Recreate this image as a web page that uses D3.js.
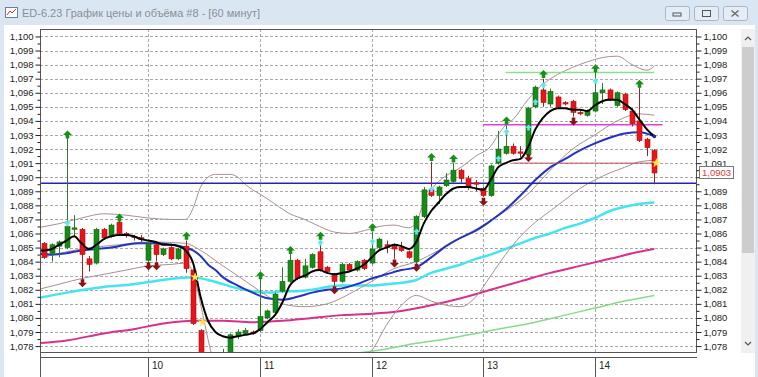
<!DOCTYPE html>
<html>
<head>
<meta charset="utf-8">
<script src="https://cdn.jsdelivr.net/npm/d3@7"></script>
<style>
  body { margin: 0; background: #fff; overflow: hidden; }
  text { font-family: "Liberation Sans", Arial, sans-serif; }
</style>
</head>
<body>
<div id="d3-container"></div>
<script>
/* CONSTANTS AND GLOBALS */
const width = 758,
  height = 377,
  plot = { left: 40, right: 696, top: 29, bottom: 352 };

const titleText = "ED-6.23 График цены и объёма #8 - [60 минут]";

// candles: [open, high, low, close], one per hourly bar
const candles = [
  [1.0853, 1.0854, 1.0842, 1.0843], [1.0846, 1.0853, 1.0840, 1.0852], [1.0851, 1.0855, 1.0843, 1.0854],
  [1.0850, 1.0929, 1.0849, 1.0865], [1.0863, 1.0873, 1.0858, 1.0864], [1.0863, 1.0864, 1.0826, 1.0845],
  [1.0842, 1.0844, 1.0833, 1.0838], [1.0839, 1.0864, 1.0838, 1.0863], [1.0863, 1.0864, 1.0856, 1.0857],
  [1.0858, 1.0867, 1.0857, 1.0866], [1.0868, 1.0869, 1.0859, 1.0860], [1.0860, 1.0861, 1.0857, 1.0859],
  [1.0858, 1.0859, 1.0855, 1.0857], [1.0857, 1.0859, 1.0854, 1.0856],
  // 10
  [1.0841, 1.0855, 1.0839, 1.0853], [1.0852, 1.0853, 1.0840, 1.0845], [1.0845, 1.0850, 1.0844, 1.0849],
  [1.0850, 1.0851, 1.0841, 1.0842], [1.0842, 1.0850, 1.0841, 1.0849], [1.0851, 1.0855, 1.0832, 1.0835],
  [1.0834, 1.0835, 1.0795, 1.0796], [1.0791, 1.0792, 1.0768, 1.0770], [1.0771, 1.0774, 1.0762, 1.0766],
  [1.0766, 1.0772, 1.0760, 1.0770], [1.0770, 1.0778, 1.0766, 1.0774], [1.0772, 1.0789, 1.0770, 1.0788],
  [1.0787, 1.0792, 1.0785, 1.0790], [1.0789, 1.0793, 1.0788, 1.0791], [1.0790, 1.0791, 1.0788, 1.0789],
  // 11
  [1.0791, 1.0828, 1.0790, 1.0801], [1.0800, 1.0806, 1.0799, 1.0805], [1.0804, 1.0818, 1.0803, 1.0817],
  [1.0819, 1.0836, 1.0818, 1.0826], [1.0826, 1.0846, 1.0825, 1.0841], [1.0841, 1.0842, 1.0827, 1.0828],
  [1.0829, 1.0842, 1.0828, 1.0837], [1.0836, 1.0846, 1.0835, 1.0845], [1.0847, 1.0855, 1.0833, 1.0834],
  [1.0836, 1.0837, 1.0832, 1.0833], [1.0831, 1.0832, 1.0823, 1.0826], [1.0826, 1.0839, 1.0825, 1.0838],
  [1.0838, 1.0839, 1.0833, 1.0834], [1.0834, 1.0841, 1.0833, 1.0840], [1.0841, 1.0842, 1.0834, 1.0835],
  // 12
  [1.0839, 1.0861, 1.0838, 1.0849], [1.0850, 1.0857, 1.0849, 1.0856], [1.0852, 1.0855, 1.0846, 1.0850],
  [1.0851, 1.0853, 1.0842, 1.0849], [1.0850, 1.0854, 1.0847, 1.0848], [1.0847, 1.0848, 1.0842, 1.0843],
  [1.0840, 1.0873, 1.0838, 1.0872], [1.0872, 1.0893, 1.0871, 1.0891], [1.0891, 1.0911, 1.0886, 1.0887],
  [1.0887, 1.0894, 1.0881, 1.0893], [1.0894, 1.0903, 1.0893, 1.0898], [1.0897, 1.0910, 1.0896, 1.0905],
  [1.0905, 1.0906, 1.0896, 1.0899], [1.0899, 1.0901, 1.0891, 1.0893], [1.0896, 1.0898, 1.0890, 1.0895],
  // 13
  [1.0892, 1.0893, 1.0886, 1.0887], [1.0887, 1.0909, 1.0886, 1.0908], [1.0910, 1.0933, 1.0909, 1.0920],
  [1.0917, 1.0937, 1.0916, 1.0922], [1.0922, 1.0924, 1.0916, 1.0917], [1.0918, 1.0922, 1.0914, 1.0917],
  [1.0916, 1.0950, 1.0915, 1.0949], [1.0950, 1.0965, 1.0949, 1.0964], [1.0962, 1.0970, 1.0950, 1.0953],
  [1.0952, 1.0963, 1.0950, 1.0961], [1.0957, 1.0958, 1.0949, 1.0950], [1.0953, 1.0954, 1.0951, 1.0952],
  [1.0954, 1.0955, 1.0943, 1.0946], [1.0946, 1.0947, 1.0944, 1.0945], [1.0944, 1.0948, 1.0943, 1.0947],
  // 14
  [1.0947, 1.0975, 1.0946, 1.0960], [1.0960, 1.0967, 1.0952, 1.0962], [1.0962, 1.0963, 1.0954, 1.0955],
  [1.0951, 1.0961, 1.0950, 1.0960], [1.0959, 1.0960, 1.0947, 1.0948], [1.0947, 1.0949, 1.0936, 1.0938],
  [1.0940, 1.0964, 1.0925, 1.0926], [1.0927, 1.0928, 1.0915, 1.0921], [1.0919, 1.0920, 1.0895, 1.0903]
];

const dayLabels = ["10", "11", "12", "13", "14"];
const dayStart = [14, 29, 44, 59, 74];

const yTickValues = [1.078, 1.079, 1.080, 1.081, 1.082, 1.083, 1.084, 1.085, 1.086, 1.087, 1.088,
  1.089, 1.090, 1.091, 1.092, 1.093, 1.094, 1.095, 1.096, 1.097, 1.098, 1.099, 1.100];

// indicator lines, [bar index, value]
const fastMA = [[-1,1.0848],[0,1.0848],[1,1.0849],[2,1.0852],[3,1.0855],[4,1.0858],[5,1.0853],[6,1.0849],
  [7,1.0852],[8,1.0856],[9,1.0858],[10,1.0859],[11,1.0859],[12,1.0858],[13,1.0856],[14,1.0855],[15,1.0854],
  [16,1.0852],[17,1.0852],[18,1.0851],[19,1.0848],[20,1.0839],[21,1.0815],[22,1.0798],[23,1.0790],[24,1.0787],
  [25,1.0786],[26,1.0787],[27,1.0788],[28,1.0789],[29,1.0792],[30,1.0797],[31,1.0802],[32,1.0811],[33,1.0823],
  [34,1.0828],[35,1.0830],[36,1.0833],[37,1.0834],[38,1.0832],[39,1.0831],[40,1.0832],[41,1.0833],[42,1.0835],
  [43,1.0838],[44,1.0843],[45,1.0848],[46,1.0850],[47,1.0852],[48,1.0851],[49,1.0849],[50,1.0854],[51,1.0867],
  [52,1.0876],[53,1.0882],[54,1.0888],[55,1.0892],[56,1.0893],[57,1.0893],[58,1.0892],[59,1.0891],[60,1.0898],
  [61,1.0907],[62,1.0910],[63,1.0912],[64,1.0913],[65,1.0921],[66,1.0934],[67,1.0942],[68,1.0947],[69,1.0949],
  [70,1.0949],[71,1.0948],[72,1.0948],[73,1.0947],[74,1.0951],[75,1.0954],[76,1.0955],[77,1.0955],[78,1.0952],
  [79,1.0948],[80,1.0941],[81,1.0934],[82,1.0929]];
const blueMA = [[-1,1.0846],[1,1.0845],[3,1.0846],[5,1.0848],[7,1.0849],[9,1.0850],[11,1.0852],[13,1.0853],
  [15,1.0853],[17,1.0852],[19,1.0850],[20,1.0848],[21,1.0844],[22,1.0838],[23,1.0834],[24,1.0829],[26,1.0823],
  [28,1.0818],[30,1.0814],[32,1.0813],[34,1.0815],[36,1.0818],[38,1.0820],[40,1.0821],[42,1.0824],[44,1.0828],
  [46,1.0831],[48,1.0834],[50,1.0836],[52,1.0843],[54,1.0851],[56,1.0857],[58,1.0862],[60,1.0869],[62,1.0877],
  [64,1.0887],[66,1.0898],[68,1.0907],[70,1.0913],[72,1.0919],[74,1.0924],[76,1.0928],[78,1.0931],[80,1.0932],
  [82,1.0929]];
const cyanMA = [[-1,1.0814],[3,1.0818],[8,1.0822],[12,1.0824],[16,1.0827],[20,1.0829],[22,1.0827],[24,1.0824],
  [26,1.0821],[28,1.0819],[30,1.0818],[32,1.0819],[34,1.0819],[36,1.0820],[38,1.0822],[40,1.0823],[42,1.0823],
  [44,1.0823],[46,1.0824],[48,1.0825],[50,1.0827],[52,1.0832],[54,1.0835],[56,1.0838],[58,1.0842],[60,1.0845],
  [62,1.0849],[64,1.0853],[66,1.0857],[68,1.0860],[70,1.0864],[72,1.0867],[74,1.0871],[76,1.0876],[78,1.0879],
  [80,1.0881],[82,1.0882]];
const magentaMA = [[-1,1.0782],[3,1.0784],[8,1.0789],[12,1.0792],[16,1.0796],[20,1.0798],[24,1.0798],[28,1.0797],
  [32,1.0798],[36,1.0800],[40,1.0802],[44,1.0803],[48,1.0805],[52,1.0809],[56,1.0814],[60,1.0820],[64,1.0826],
  [68,1.0832],[72,1.0837],[76,1.0842],[80,1.0847],[82,1.0849]];
const greenMA = [[42,1.0775],[46,1.0778],[50,1.0782],[54,1.0785],[58,1.0789],[62,1.0793],[66,1.0797],[70,1.0802],
  [74,1.0807],[78,1.0812],[82,1.0816]];
const bandUpper = [[-1,1.0864],[2,1.0867],[5,1.0871],[8,1.0874],[11,1.0873],[14,1.0871],[17,1.0870],[19,1.0870],
  [20,1.0878],[21,1.0893],[22,1.0900],[23,1.0902],[24,1.0902],[25,1.0902],[26,1.0900],[27,1.0895],[28,1.0891],
  [29,1.0888],[31,1.0881],[33,1.0874],[35,1.0870],[37,1.0865],[39,1.0861],[41,1.0860],[43,1.0862],[45,1.0865],
  [47,1.0866],[49,1.0864],[50,1.0868],[51,1.0882],[52,1.0891],[53,1.0897],[54,1.0901],[56,1.0907],[58,1.0915],
  [60,1.0922],[61,1.0930],[62,1.0937],[63,1.0941],[65,1.0955],[67,1.0966],[69,1.0973],[71,1.0978],[73,1.0982],
  [75,1.0985],[77,1.0986],[79,1.0980],[81,1.0976],[82,1.0979]];
const bandMiddle = [[-1,1.0842],[5,1.0849],[10,1.0852],[14,1.0854],[19,1.0853],[21,1.0848],[24,1.0837],[26,1.0830],
  [29,1.0819],[32,1.0810],[35,1.0808],[38,1.0810],[41,1.0817],[44,1.0826],[47,1.0835],[50,1.0840],[53,1.0848],
  [56,1.0857],[59,1.0866],[62,1.0876],[65,1.0888],[68,1.0905],[71,1.0920],[74,1.0930],[77,1.0940],[80,1.0945],
  [82,1.0944]];
const bandLower = [[-1,1.0820],[2,1.0824],[5,1.0828],[8,1.0831],[11,1.0834],[14,1.0837],[17,1.0838],[19,1.0839],
  [20,1.0832],[21,1.0810],[22,1.0785],[23,1.0765],[26,1.0745],[30,1.0742],[34,1.0748],[38,1.0757],[41,1.0766],
  [43,1.0773],[44,1.0777],[46,1.0795],[48,1.0809],[50,1.0816],[52,1.0812],[54,1.0809],[56,1.0808],[58,1.0815],
  [60,1.0830],[62,1.0845],[64,1.0858],[66,1.0868],[68,1.0876],[70,1.0884],[72,1.0892],[74,1.0898],[76,1.0903],
  [78,1.0907],[80,1.0911],[82,1.0912]];

// fractal / signal markers, [bar index, value]
const upArrows = [[3,1.0930],[10,1.0871],[19,1.0858],[29,1.0830],[33,1.0848],[37,1.0858],[44,1.0864],
  [52,1.0914],[55,1.0913],[62,1.0940],[67,1.0973],[74,1.0977],[80,1.0966]];
const cyanArrows = [[3,1.0867],[37,1.0853],[44,1.0854],[50,1.0861],[52,1.0891],[61,1.0913],[62,1.0932],
  [65,1.0935],[66,1.0953],[67,1.0965],[74,1.0968]];
const downArrows = [[5,1.0825],[14,1.0837],[15,1.0837],[39,1.0820],[47,1.0839],[50,1.0836],[59,1.0883],
  [65,1.0914],[71,1.0940]];
const stars = [[20,1.0829],[21,1.0797],[82,1.0910]];

// horizontal levels: [value, from bar, to bar]
const levelBlue = [1.08957, -1, 88];
const levelGreen = [1.09744, 62, 82];
const levelMagenta = [1.09372, 59, 83.1];
const levelRed = [1.0910, 63, 82.2];
const lastPrice = 1.0903;

let svg, xScale, yScale, chart;

init();

/* INITIALIZING FUNCTION */
function init() {
  xScale = d3.scaleLinear().domain([-0.58, 87.6]).range([plot.left, plot.right]);
  yScale = d3.scaleLinear().domain([1.07758, 1.10053]).range([plot.bottom, plot.top]);

  svg = d3.select("#d3-container").append("svg")
    .attr("width", width)
    .attr("height", height);

  drawWindow();

  svg.append("defs").append("clipPath").attr("id", "plotclip")
    .append("rect")
    .attr("x", plot.left).attr("y", plot.top)
    .attr("width", plot.right - plot.left).attr("height", plot.bottom - plot.top);

  // grid
  const grid = svg.append("g").attr("class", "grid")
    .attr("stroke", "#a8a8a8").attr("stroke-dasharray", "3,2").attr("stroke-width", 1);
  grid.selectAll(".hgrid").data(yTickValues).join("line")
    .attr("x1", plot.left).attr("x2", plot.right)
    .attr("y1", d => Math.round(yScale(d)) + 0.5).attr("y2", d => Math.round(yScale(d)) + 0.5);
  grid.selectAll(".vgrid").data(dayStart).join("line")
    .attr("x1", d => Math.round(xScale(d)) + 0.5).attr("x2", d => Math.round(xScale(d)) + 0.5)
    .attr("y1", plot.top).attr("y2", plot.bottom);

  chart = svg.append("g").attr("clip-path", "url(#plotclip)");

  draw();
  drawAxes();
}

function drawWindow() {
  // title bar
  svg.append("rect").attr("x", 0).attr("y", 0).attr("width", width).attr("height", 25).attr("fill", "#dbe6f3");
  svg.append("rect").attr("x", 0).attr("y", 0).attr("width", 4).attr("height", height).attr("fill", "#dbe6f3");
  svg.append("rect").attr("x", 755).attr("y", 0).attr("width", 3).attr("height", height).attr("fill", "#dbe6f3");
  // icon
  svg.append("rect").attr("x", 5.5).attr("y", 7.5).attr("width", 12).attr("height", 10)
    .attr("fill", "#fff").attr("stroke", "#6a7f9a");
  svg.append("path").attr("d", "M7,15 L10,11 L12,13 L16,9").attr("fill", "none").attr("stroke", "#d03030");
  svg.append("text").attr("x", 22).attr("y", 17).attr("font-size", 11).attr("fill", "#8a8f96")
    .attr("font-family", "Open Sans").text(titleText);
  // window buttons
  const btns = [665, 694, 723];
  svg.selectAll(".btn").data(btns).join("rect")
    .attr("x", d => d + 0.5).attr("y", 6.5).attr("width", 24).attr("height", 14).attr("rx", 2)
    .attr("fill", "#e4ecf6").attr("stroke", "#a8b6c8");
  svg.append("rect").attr("x", 673).attr("y", 13).attr("width", 8).attr("height", 3).attr("fill", "none").attr("stroke", "#555");
  svg.append("rect").attr("x", 702.5).attr("y", 10.5).attr("width", 8).attr("height", 6).attr("fill", "none").attr("stroke", "#555");
  svg.append("path").attr("d", "M731.5,10.5 L738.5,16.5 M738.5,10.5 L731.5,16.5").attr("stroke", "#666").attr("stroke-width", 1.3);
  // scrollbar
  svg.append("rect").attr("x", 741).attr("y", 29).attr("width", 14).attr("height", 324).attr("fill", "#f0f0f0");
  svg.append("rect").attr("x", 742).attr("y", 47).attr("width", 12).attr("height", 206).attr("fill", "#cdcdcd");
  svg.append("path").attr("d", "M745,40 L748,37 L751,40").attr("fill", "none").attr("stroke", "#555").attr("stroke-width", 1.2);
  svg.append("path").attr("d", "M745,342 L748,345 L751,342").attr("fill", "none").attr("stroke", "#555").attr("stroke-width", 1.2);
}

/* DRAW FUNCTION */
function draw() {
  const lineGen = d3.line()
    .x(d => xScale(d[0]))
    .y(d => yScale(d[1]))
    .curve(d3.curveMonotoneX);

  const series = [
    { data: greenMA, color: "#86dc86", w: 1.5 },
    { data: magentaMA, color: "#d8308c", w: 2 },
    { data: cyanMA, color: "#44e4f2", w: 2.5 },
    { data: bandUpper, color: "#a89090", w: 1 },
    { data: bandMiddle, color: "#a89090", w: 1 },
    { data: bandLower, color: "#a89090", w: 1 },
    { data: blueMA, color: "#2233c4", w: 2 }
  ];

  chart.selectAll(".ma").data(series).join("path")
    .attr("class", "ma")
    .attr("fill", "none")
    .attr("stroke", d => d.color)
    .attr("stroke-width", d => d.w)
    .attr("d", d => lineGen(d.data));

  // horizontal levels
  const levels = [
    { l: levelBlue, color: "#2424b4", w: 1.6 },
    { l: levelGreen, color: "#8ae08a", w: 1.5 },
    { l: levelMagenta, color: "#e040d8", w: 1.5 },
    { l: levelRed, color: "#c05050", w: 1 }
  ];
  chart.selectAll(".level").data(levels).join("line")
    .attr("class", "level")
    .attr("x1", d => xScale(d.l[1])).attr("x2", d => xScale(d.l[2]))
    .attr("y1", d => yScale(d.l[0])).attr("y2", d => yScale(d.l[0]))
    .attr("stroke", d => d.color).attr("stroke-width", d => d.w);

  // candles
  const bars = chart.selectAll(".bar").data(candles).join("g").attr("class", "bar");
  const up = d => d[3] >= d[0];
  bars.append("line")
    .attr("x1", (d, i) => Math.round(xScale(i)) + 0.5).attr("x2", (d, i) => Math.round(xScale(i)) + 0.5)
    .attr("y1", d => yScale(d[1])).attr("y2", d => yScale(d[2]))
    .attr("stroke", d => up(d) ? "#2f7a2f" : "#8c2a2a").attr("stroke-width", 1);
  bars.append("rect")
    .attr("x", (d, i) => Math.round(xScale(i)) - 2)
    .attr("width", 5)
    .attr("y", d => yScale(Math.max(d[0], d[3])))
    .attr("height", d => Math.max(1, Math.abs(yScale(d[0]) - yScale(d[3]))))
    .attr("fill", d => up(d) ? "#178a17" : "#e8141a")
    .attr("stroke", d => up(d) ? "#0e6a0e" : "#b01010")
    .attr("stroke-width", 0.6);

  // fast MA on top of candles
  chart.append("path")
    .attr("fill", "none").attr("stroke", "#000").attr("stroke-width", 2)
    .attr("d", lineGen(fastMA));
  chart.append("circle").attr("cx", xScale(82)).attr("cy", yScale(1.0929)).attr("r", 1.8).attr("fill", "#1a2aa0");

  // markers
  const upPath = "M0,-4.5 L4.5,0 L1.8,0 L1.8,3.5 L-1.8,3.5 L-1.8,0 L-4.5,0 Z";
  const downPath = "M0,4.5 L4.5,0 L1.8,0 L1.8,-3.5 L-1.8,-3.5 L-1.8,0 L-4.5,0 Z";
  const smallUp = "M0,-3.5 L3.5,0 L1.3,0 L1.3,2.5 L-1.3,2.5 L-1.3,0 L-3.5,0 Z";
  chart.selectAll(".uparrow").data(upArrows).join("path")
    .attr("class", "uparrow")
    .attr("transform", d => `translate(${Math.round(xScale(d[0])) + 0.5}, ${yScale(d[1])})`)
    .attr("d", upPath).attr("fill", "#169016");
  chart.selectAll(".cyanarrow").data(cyanArrows).join("path")
    .attr("class", "cyanarrow")
    .attr("transform", d => `translate(${Math.round(xScale(d[0])) + 0.5}, ${yScale(d[1])})`)
    .attr("d", smallUp).attr("fill", "#5ee6f0");
  chart.selectAll(".downarrow").data(downArrows).join("path")
    .attr("class", "downarrow")
    .attr("transform", d => `translate(${Math.round(xScale(d[0])) + 0.5}, ${yScale(d[1])})`)
    .attr("d", downPath).attr("fill", "#8a1414");
  const star = d3.symbol().type(d3.symbolStar).size(30);
  chart.selectAll(".star").data(stars).join("path")
    .attr("class", "star")
    .attr("transform", d => `translate(${xScale(d[0]) + 2}, ${yScale(d[1])})`)
    .attr("d", star).attr("fill", "#ffe84a");
}

function drawAxes() {
  const fmt = d => d3.format(".3f")(d).replace(".", ",");
  const minor = yTickValues.slice(1).map(d => d - 0.0005);
  // the last-price box hides the right-hand 1,090 label
  const rightTicks = yTickValues.filter(d => Math.abs(d - 1.090) > 1e-6);

  // frame
  svg.append("rect")
    .attr("x", plot.left + 0.5).attr("y", plot.top + 0.5)
    .attr("width", plot.right - plot.left).attr("height", plot.bottom - plot.top)
    .attr("fill", "none").attr("stroke", "#555");

  svg.append("g").attr("transform", `translate(${plot.left + 0.5},0)`)
    .call(d3.axisLeft(yScale).tickValues(yTickValues).tickFormat(fmt).tickSize(5).tickPadding(2));
  svg.append("g").attr("transform", `translate(${plot.right + 0.5},0)`)
    .call(d3.axisRight(yScale).tickValues(rightTicks).tickFormat(fmt).tickSize(5).tickPadding(2));
  svg.append("g").attr("transform", `translate(${plot.left + 0.5},0)`)
    .call(d3.axisLeft(yScale).tickValues(minor).tickFormat("").tickSize(3));
  svg.append("g").attr("transform", `translate(${plot.right + 0.5},0)`)
    .call(d3.axisRight(yScale).tickValues(minor.concat([1.090])).tickFormat("").tickSize(3));
  svg.selectAll(".domain").remove();
  svg.selectAll(".tick line").attr("stroke", "#222");
  svg.selectAll(".tick text").attr("font-size", 9.5).attr("fill", "#222")
    .attr("font-family", "Roboto");

  // last price label
  const ly = yScale(lastPrice);
  svg.append("rect").attr("x", 699.5).attr("y", Math.round(ly) - 6.5).attr("width", 34).attr("height", 12)
    .attr("fill", "#fff").attr("stroke", "#777");
  svg.append("text").attr("x", 702).attr("y", ly + 3.5).attr("font-size", 9.5).attr("font-family", "Roboto")
    .attr("fill", "#e03a3a").text(d3.format(".4f")(lastPrice).replace(".", ","));

  // time axis box
  const tx = svg.append("g");
  tx.append("line").attr("x1", plot.left).attr("x2", plot.right + 1).attr("y1", 357.5).attr("y2", 357.5).attr("stroke", "#555");
  tx.append("line").attr("x1", plot.left + 0.5).attr("x2", plot.left + 0.5).attr("y1", plot.bottom).attr("y2", height).attr("stroke", "#555");
  tx.selectAll(".dtick").data(dayStart).join("line")
    .attr("x1", d => Math.round(xScale(d)) + 0.5).attr("x2", d => Math.round(xScale(d)) + 0.5)
    .attr("y1", 357.5).attr("y2", height).attr("stroke", "#555");
  tx.selectAll(".dlabel").data(dayStart).join("text")
    .attr("x", d => Math.round(xScale(d)) + 4).attr("y", 369)
    .attr("font-size", 10).attr("font-family", "Roboto").attr("fill", "#222")
    .text((d, i) => dayLabels[i]);
}
</script>
</body>
</html>
